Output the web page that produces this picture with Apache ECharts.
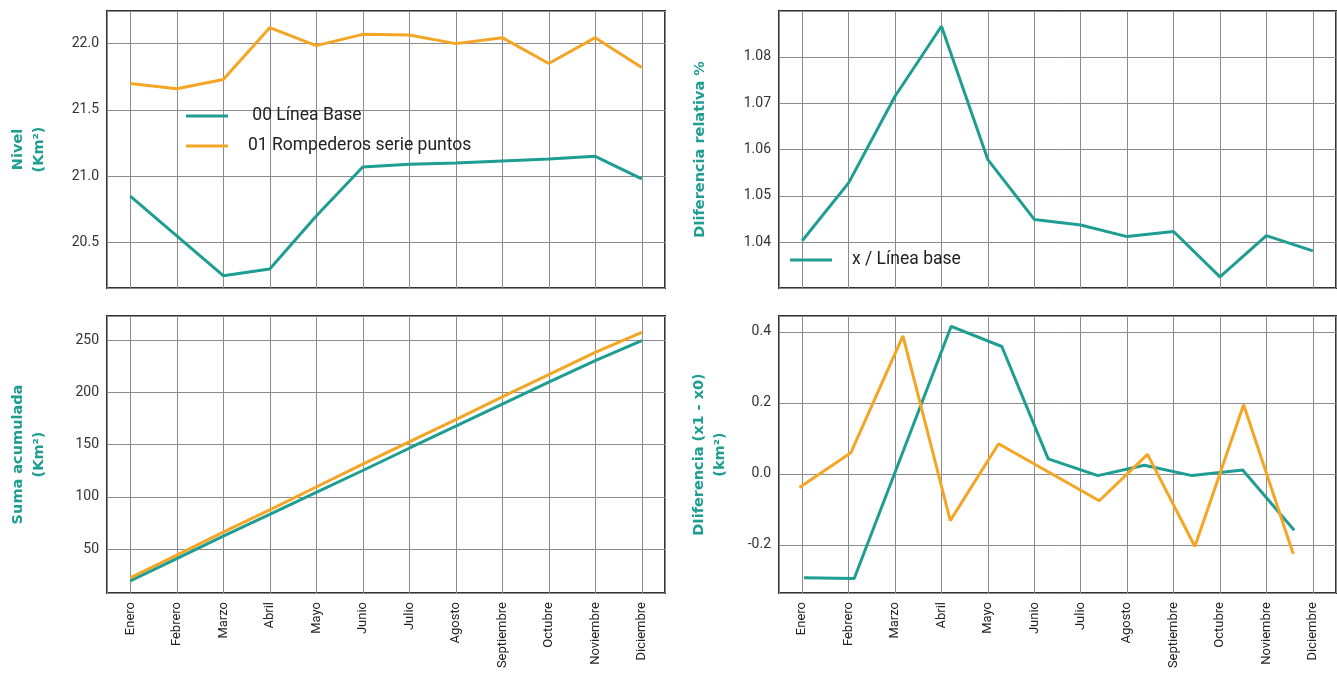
<!DOCTYPE html>
<html>
<head>
<meta charset="utf-8">
<script src="https://cdn.jsdelivr.net/npm/echarts@6/dist/echarts.min.js"></script>
<style>
html,body{margin:0;padding:0;background:#fff;}
#c{width:1337px;height:673px;}
</style>
</head>
<body>
<div id="c"></div>
<script>
// ---- data ----
const months = ['Enero','Febrero','Marzo','Abril','Mayo','Junio','Julio','Agosto','Septiembre','Octubre','Noviembre','Diciembre'];

// Nivel (Km²)
const nivelBase  = [20.85, 20.55, 20.25, 20.30, 20.70, 21.07, 21.09, 21.10, 21.115, 21.13, 21.15, 20.98];
const nivelRompe = [21.70, 21.66, 21.73, 22.12, 21.985, 22.07, 22.065, 22.00, 22.045, 21.85, 22.045, 21.82];

// Diferencia relativa %
const relDiff = [1.0403, 1.0528, 1.0715, 1.0866, 1.0578, 1.0449, 1.0437, 1.0412, 1.0423, 1.0325, 1.0414, 1.0381];

// Suma acumulada (Km²)
const sumBase  = [19.5, 40.8, 62.5, 83.2, 104.2, 125.2, 146.5, 167.6, 188.7, 209.8, 230.4, 249.4];
const sumRompe = [22.5, 44.3, 66.2, 87.5, 109.4, 131.3, 152.6, 173.8, 195.6, 217.0, 238.2, 257.4];

// Diferencia (x1 - x0) (km²) — positions along the month axis (0 = Enero)
const diffBaseX  = [0.04, 1.12, 3.21, 4.30, 5.30, 6.37, 7.37, 8.40, 9.49, 10.60];
const diffBaseY  = [-0.293, -0.295, 0.416, 0.359, 0.042, -0.005, 0.024, -0.005, 0.011, -0.159];
const diffRompeX = [-0.06, 1.05, 2.17, 3.19, 4.23, 6.40, 7.44, 8.46, 9.51, 10.58];
const diffRompeY = [-0.0385, 0.0595, 0.389, -0.132, 0.085, -0.076, 0.055, -0.205, 0.195, -0.226];

const legendNames = [' 00 Línea Base', '01 Rompederos serie puntos', 'x / Línea base'];
const axisNames = ['Nivel\n(Km²)', 'DIiferencia relativa %', 'Suma acumulada\n(Km²)', 'DIiferencia (x1 - x0)\n(km²)'];

// ---- styles ----
const TEAL = '#1e9d93';
const ORANGE = '#f5a524';
const GRIDLINE = {color:'#8c8c8c', width:1};
const grids = [
  {left:107, top:11, right:672, height:277},
  {left:779, top:11, right:1, height:277},
  {left:107, top:316, right:672, height:277},
  {left:779, top:316, right:1, height:277}
].map(g => Object.assign({show:true, borderColor:'#333', borderWidth:2, backgroundColor:'transparent'}, g));

function catAxis(gi, showLabels){
  return {
    type:'category', gridIndex:gi, data:months, boundaryGap:true,
    axisLine:{show:false}, axisTick:{show:false},
    axisLabel:{show:showLabels, rotate:90, margin:9, fontFamily:'Roboto', fontSize:13, color:'#222'},
    splitLine:{show:false}
  };
}
// month grid lines at category centres
function monthGridAxis(gi){
  return {
    type:'value', gridIndex:gi, min:-0.5, max:11.5, minInterval:1, maxInterval:1,
    axisLine:{show:false}, axisTick:{show:false}, axisLabel:{show:false},
    splitLine:{show:true, lineStyle:GRIDLINE}
  };
}
function valAxis(gi, min, max, step, dec, name, gap){
  return {
    type:'value', gridIndex:gi, min:min, max:max, minInterval:step, maxInterval:step,
    axisLine:{show:false}, axisTick:{show:false},
    axisLabel:{showMinLabel:false, showMaxLabel:false, margin:8, fontFamily:'Roboto', fontSize:14, color:'#333',
      formatter: v => v.toFixed(dec)},
    splitLine:{show:true, lineStyle:GRIDLINE},
    name:name, nameLocation:'middle', nameRotate:90, nameGap:gap,
    nameTextStyle:{fontFamily:'DejaVu Sans', fontWeight:'bold', fontSize:14.5, color:TEAL, lineHeight:21, align:'center'}
  };
}
const zip = (xs, ys) => xs.map((x,i) => [x, ys[i]]);
const lineStyle = c => ({color:c, width:3});

const option = {
  animation:false,
  backgroundColor:'#fff',
  grid: grids,
  legend: [
    {left:186, top:106, orient:'vertical', padding:0, itemGap:10, itemWidth:42, itemHeight:3, icon:'rect',
     data:[legendNames[0], legendNames[1]],
     textStyle:{fontFamily:'Roboto', fontSize:17.5, color:'#222', lineHeight:20, padding:[0,0,0,15]}},
    {left:790, top:250, orient:'vertical', padding:0, itemWidth:42, itemHeight:3, icon:'rect',
     data:[legendNames[2]],
     textStyle:{fontFamily:'Roboto', fontSize:17.5, color:'#222', lineHeight:20, padding:[0,0,0,15]}}
  ],
  xAxis: [
    catAxis(0,false), catAxis(1,false), catAxis(2,true), catAxis(3,true),
    monthGridAxis(0), monthGridAxis(1), monthGridAxis(2), monthGridAxis(3)
  ],
  yAxis: [
    valAxis(0, 20.157, 22.246, 0.5, 1, axisNames[0], 57),
    valAxis(1, 1.0301, 1.0899, 0.01, 2, axisNames[1], 68),
    valAxis(2, 8, 273, 50, 0, axisNames[2], 57),
    valAxis(3, -0.336, 0.445, 0.2, 1, axisNames[3], 48)
  ],
  series: [
    {name:legendNames[0], type:'line', xAxisIndex:0, yAxisIndex:0, data:nivelBase, symbol:'none', lineStyle:lineStyle(TEAL), itemStyle:{color:TEAL}},
    {name:legendNames[1], type:'line', xAxisIndex:0, yAxisIndex:0, data:nivelRompe, symbol:'none', lineStyle:lineStyle(ORANGE), itemStyle:{color:ORANGE}},
    {name:legendNames[2], type:'line', xAxisIndex:1, yAxisIndex:1, data:relDiff, symbol:'none', lineStyle:lineStyle(TEAL), itemStyle:{color:TEAL}},
    {name:'sumRompe', type:'line', xAxisIndex:2, yAxisIndex:2, data:sumRompe, symbol:'none', lineStyle:lineStyle(ORANGE), itemStyle:{color:ORANGE}},
    {name:'sumBase', type:'line', xAxisIndex:2, yAxisIndex:2, data:sumBase, symbol:'none', lineStyle:lineStyle(TEAL), itemStyle:{color:TEAL}},
    {name:'diffBase', type:'line', xAxisIndex:7, yAxisIndex:3, data:zip(diffBaseX, diffBaseY), symbol:'none', lineStyle:lineStyle(TEAL), itemStyle:{color:TEAL}},
    {name:'diffRompe', type:'line', xAxisIndex:7, yAxisIndex:3, data:zip(diffRompeX, diffRompeY), symbol:'none', lineStyle:lineStyle(ORANGE), itemStyle:{color:ORANGE}}
  ]
};
const chart = echarts.init(document.getElementById('c'), null, {renderer:'canvas'});
chart.setOption(option);
</script>
</body>
</html>
